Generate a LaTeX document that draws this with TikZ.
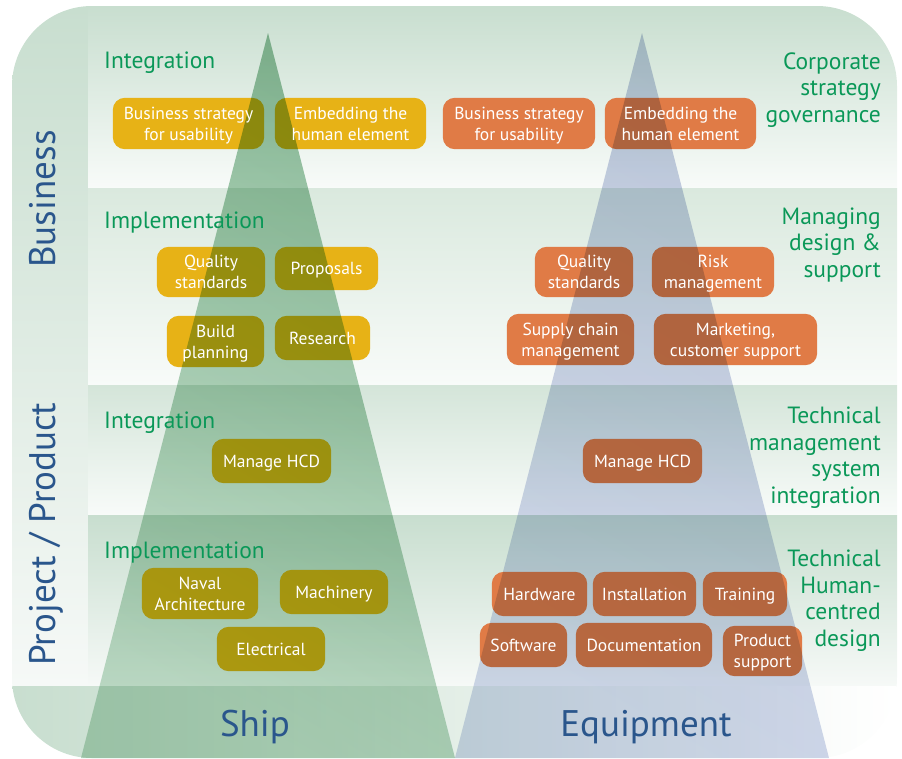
\documentclass[tikz,border=0pt]{standalone}
\usepackage{fontspec}
\setmainfont{PT Sans}
\pgfdeclarelayer{back}
\pgfdeclarelayer{boxes}
\pgfdeclarelayer{tri}
\pgfsetlayers{back,boxes,tri,main}
\definecolor{bandtop}{RGB}{200,222,207}
\definecolor{bandtopb}{RGB}{218,233,222}
\definecolor{bandtopc}{RGB}{212,229,217}
\definecolor{bandbot}{RGB}{248,251,249}
\definecolor{stripbot}{RGB}{246,249,247}
\definecolor{ybox}{RGB}{231,178,22}
\definecolor{obox}{RGB}{224,123,70}
\definecolor{greentriD}{RGB}{150,194,163}
\definecolor{greentriL}{RGB}{192,220,200}
\definecolor{bluetriD}{RGB}{196,204,226}
\definecolor{bluetriL}{RGB}{210,217,236}
\definecolor{lblgreen}{RGB}{10,152,88}
\definecolor{lblblue}{RGB}{42,86,140}
\begin{document}
\begin{tikzpicture}[x=1pt,y=-1pt,
  boxtext/.style={text=white, align=center, inner sep=0pt, text depth=0pt, font=\fontsize{17.5}{21}\selectfont},
  ybx/.style={fill=ybox, rounded corners=12pt},
  obx/.style={fill=obox, rounded corners=12pt},
  rowlabel/.style={text=lblgreen, anchor=base west, inner sep=0pt, font=\fontsize{23.5}{26.5}\selectfont},
  sidelabel/.style={text=lblgreen, anchor=base east, align=right, inner sep=0pt, font=\fontsize{23.5}{26.5}\selectfont},
  axislabel/.style={text=lblblue, inner sep=0pt, font=\fontsize{37}{40}\selectfont}
]
\useasboundingbox (0,0) rectangle (902,758);

% ---- box nodes (text) ----
\node[boxtext, minimum width=151pt, minimum height=51pt] (ys1) at (188.5,123.5) {Business strategy\\for usability};
\node[boxtext, minimum width=151pt, minimum height=51pt] (ys2) at (350.5,123.5) {Embedding the\\human element};
\node[boxtext, minimum width=108pt, minimum height=50pt] (yq) at (211,272) {Quality\\standards};
\node[boxtext, minimum width=103pt, minimum height=43pt] (yp) at (326.5,268.5) {Proposals};
\node[boxtext, minimum width=97pt, minimum height=51pt] (yb) at (215.5,341.5) {Build\\planning};
\node[boxtext, minimum width=95pt, minimum height=44pt] (yr) at (322.5,338) {Research};
\node[boxtext, minimum width=119pt, minimum height=44pt] (ym) at (271.5,461) {Manage HCD};
\node[boxtext, minimum width=116pt, minimum height=51pt] (yn) at (200,593.5) {Naval\\Architecture};
\node[boxtext, minimum width=108pt, minimum height=44pt] (ymach) at (334,592) {Machinery};
\node[boxtext, minimum width=108pt, minimum height=44pt] (ye) at (271,649) {Electrical};

\node[boxtext, minimum width=152pt, minimum height=51pt] (os1) at (519,123.5) {Business strategy\\for usability};
\node[boxtext, minimum width=151pt, minimum height=51pt] (os2) at (680.5,123.5) {Embedding the\\human element};
\node[boxtext, minimum width=98pt, minimum height=50pt] (oq) at (584,272) {Quality\\standards};
\node[boxtext, minimum width=122pt, minimum height=50pt] (ork) at (713,272) {Risk\\management};
\node[boxtext, minimum width=127pt, minimum height=51pt] (osc) at (570.5,339.5) {Supply chain\\management};
\node[boxtext, minimum width=163pt, minimum height=51pt] (omk) at (735.5,339.5) {Marketing,\\customer support};
\node[boxtext, minimum width=119pt, minimum height=44pt] (om) at (642.5,461) {Manage HCD};
\node[boxtext, minimum width=95pt, minimum height=44pt] (ohw) at (539.5,594) {Hardware};
\node[boxtext, minimum width=103pt, minimum height=44pt] (oin) at (644.5,594) {Installation};
\node[boxtext, minimum width=84pt, minimum height=44pt] (otr) at (745,594) {Training};
\node[boxtext, minimum width=87pt, minimum height=44pt] (osw) at (523.5,645) {Software};
\node[boxtext, minimum width=136pt, minimum height=44pt] (odoc) at (644,645) {Documentation};
\node[boxtext, minimum width=79pt, minimum height=50pt] (ops) at (762.5,651) {Product\\support};

% ---- labels ----
\node[rowlabel] (l1) at (104,68) {Integration};
\node[rowlabel] (l2) at (104,228) {Implementation};
\node[rowlabel] (l3) at (104,428) {Integration};
\node[rowlabel] (l4) at (104,558) {Implementation};

\node[sidelabel] (r1) at (881,122) {Corporate\\strategy\\governance};
\node[sidelabel] (r2) at (881,277) {Managing\\design \&\\support};
\node[sidelabel] (r3) at (881,503) {Technical\\management\\system\\integration};
\node[sidelabel] (r4) at (881,646) {Technical\\Human-\\centred\\design};

\node[axislabel, rotate=90, anchor=base] (biz) at (55,199) {Business};
\node[axislabel, rotate=90, anchor=base] (proj) at (55,534) {Project / Product};
\node[axislabel, anchor=base] (ship) at (255,736) {Ship};
\node[axislabel, anchor=base] (equip) at (646,736) {Equipment};

% ---- background ----
\begin{pgfonlayer}{back}
\begin{scope}
\clip[rounded corners=80pt] (12,6) rectangle (897,758);
\shade[top color=bandtop, bottom color=stripbot] (12,6) rectangle (88,686);
\shade[top color=bandtop, bottom color=bandbot] (88,6) rectangle (897,188.5);
\shade[top color=bandtopb, bottom color=bandbot] (88,188.5) rectangle (897,385.5);
\shade[top color=bandtopc, bottom color=bandbot] (88,385.5) rectangle (897,515.5);
\shade[top color=bandtop, bottom color=stripbot] (88,515.5) rectangle (897,686);
\shade[left color=bandtop, right color=white] (12,686) rectangle (897,758);
\end{scope}
\end{pgfonlayer}

% ---- box fills ----
\begin{pgfonlayer}{boxes}
\foreach \n in {ys1,ys2,yq,yp,yb,yr,ym,yn,ymach,ye}
  \path[ybx] (\n.north west) rectangle (\n.south east);
\foreach \n in {os1,os2,oq,ork,osc,omk,om,ohw,oin,otr,osw,odoc,ops}
  \path[obx] (\n.north west) rectangle (\n.south east);
\end{pgfonlayer}

% ---- triangles ----
\begin{pgfonlayer}{tri}
\begin{scope}[blend mode=multiply]
\shade[top color=greentriD, bottom color=greentriL, shading angle=-30]
  (268,33) -- (81,758) -- (455,758) -- cycle;
\shade[top color=bluetriD, bottom color=bluetriL, shading angle=-30]
  (642,33) -- (455,758) -- (829,758) -- cycle;
\end{scope}
\end{pgfonlayer}
\end{tikzpicture}
\end{document}
